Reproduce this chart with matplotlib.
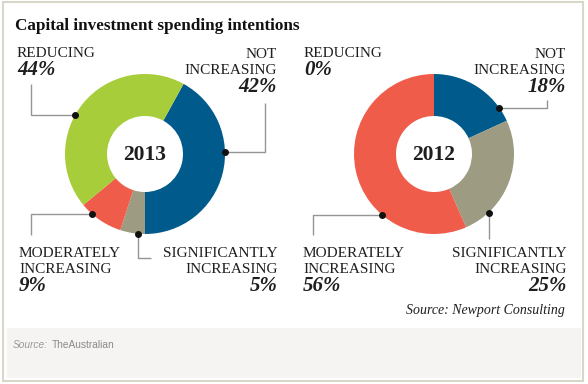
import numpy as np
import matplotlib
matplotlib.use('Agg')
import matplotlib.pyplot as plt
from matplotlib.patches import Rectangle


# chart data
cats_2013 = ['NOT INCREASING', 'SIGNIFICANTLY INCREASING', 'MODERATELY INCREASING', 'REDUCING']
vals_2013 = [42, 5, 9, 44]
cats_2012 = ['NOT INCREASING', 'SIGNIFICANTLY INCREASING', 'MODERATELY INCREASING', 'REDUCING']
vals_2012 = [18, 25, 56, 0]
colors = ['#005b8c', '#9d9b82', '#f05c4a', '#a8cd3b']

title = 'Capital investment spending intentions'
source = 'Source: Newport Consulting'

SERIF = 'Liberation Serif'
TXT = '#1e1e1e'
LINE = '#959595'
LAB_FS = 11
PCT_FS = 15

fig = plt.figure(figsize=(5.88, 3.84), dpi=100)
fig.patch.set_facecolor('white')
ax = fig.add_axes([0, 0, 1, 1])

R_OUT = 80
R_IN = 38


def donut(vals, cx, cy, start_cw):
    # y axis is inverted later, so counterclock in data == clockwise on screen
    ax.pie(vals, colors=colors, startangle=-90 + start_cw, counterclock=True,
           radius=R_OUT, center=(cx, cy),
           wedgeprops=dict(width=R_OUT - R_IN, linewidth=0))


def dot_pos(cx, cy, ang):
    a = np.deg2rad(ang)
    return cx + R_OUT * np.sin(a), cy - R_OUT * np.cos(a)


def leader(cx, cy, ang, route):
    x, y = dot_pos(cx, cy, ang)
    xs, ys = [x], [y]
    for kind, v in route:
        if kind == 'h':
            x = v
        else:
            y = v
        xs.append(x)
        ys.append(y)
    ax.plot(xs, ys, color=LINE, lw=1, solid_capstyle='butt', zorder=3)
    ax.plot(xs[0], ys[0], 'o', color='#111111', ms=4, zorder=4)


def label(x, y, name, pct, ha):
    yy = y
    for w in name.split(' '):
        ax.text(x, yy, w, ha=ha, va='baseline', fontsize=LAB_FS, family=SERIF, color=TXT)
        yy += 16
    ax.text(x, yy + 2, '%d%%' % pct, ha=ha, va='baseline', fontsize=PCT_FS, family=SERIF,
            weight='bold', style='italic', color=TXT)


# frame + footer
ax.add_patch(Rectangle((3, 2), 580, 379, facecolor='white', edgecolor='#d8d7c9', lw=1.5, zorder=0))
ax.add_patch(Rectangle((7, 328), 574, 50, facecolor='#f5f4f2', edgecolor='none', zorder=1))

# 2013: blue segment ends at the bottom
c13 = (145, 154)
donut(vals_2013, c13[0], c13[1], 180 - 360 * vals_2013[0] / sum(vals_2013))
ax.text(c13[0], c13[1] + 1, '2013', ha='center', va='center', fontsize=15.5,
        family=SERIF, weight='bold', color=TXT)

# 2012: blue segment starts at the top
c12 = (434, 154)
donut(vals_2012, c12[0], c12[1], 0)
ax.text(c12[0], c12[1] + 1, '2012', ha='center', va='center', fontsize=15.5,
        family=SERIF, weight='bold', color=TXT)

# labels 2013
label(17, 57, cats_2013[3], vals_2013[3], 'left')
label(277, 58, cats_2013[0], vals_2013[0], 'right')
label(19, 257, cats_2013[2], vals_2013[2], 'left')
label(278, 257, cats_2013[1], vals_2013[1], 'right')

leader(*c13, 299, [('h', 31), ('v', 84)])
leader(*c13, 88.6, [('h', 265), ('v', 103)])
leader(*c13, 221.4, [('h', 31), ('v', 235)])
leader(*c13, 185, [('v', 258), ('h', 151)])

# labels 2012
label(304, 57, cats_2012[3], vals_2012[3], 'left')
label(566, 58, cats_2012[0], vals_2012[0], 'right')
label(303, 257, cats_2012[2], vals_2012[2], 'left')
label(567, 257, cats_2012[1], vals_2012[1], 'right')

leader(*c12, 54.9, [('h', 547), ('v', 100)])
leader(*c12, 220.8, [('h', 313), ('v', 235)])
leader(*c12, 137, [('v', 239)])

# title and sources
ax.text(15, 30, title, ha='left', va='baseline', fontsize=12.3, family=SERIF,
        weight='bold', color='#111111')
ax.text(565, 314, source, ha='right', va='baseline', fontsize=10, family=SERIF,
        style='italic', color=TXT)
ax.text(13, 348, 'Source:', ha='left', va='baseline', fontsize=7.3, family='Liberation Sans',
        style='italic', color='#9a9a9a')
ax.text(52, 348, 'TheAustralian', ha='left', va='baseline', fontsize=7.3, family='Liberation Sans',
        color='#8a8a8a')

ax.set_xlim(0, 588)
ax.set_ylim(384, 0)
ax.set_aspect('auto')
ax.axis('off')

fig.savefig('out.png', dpi=100, facecolor='white')
